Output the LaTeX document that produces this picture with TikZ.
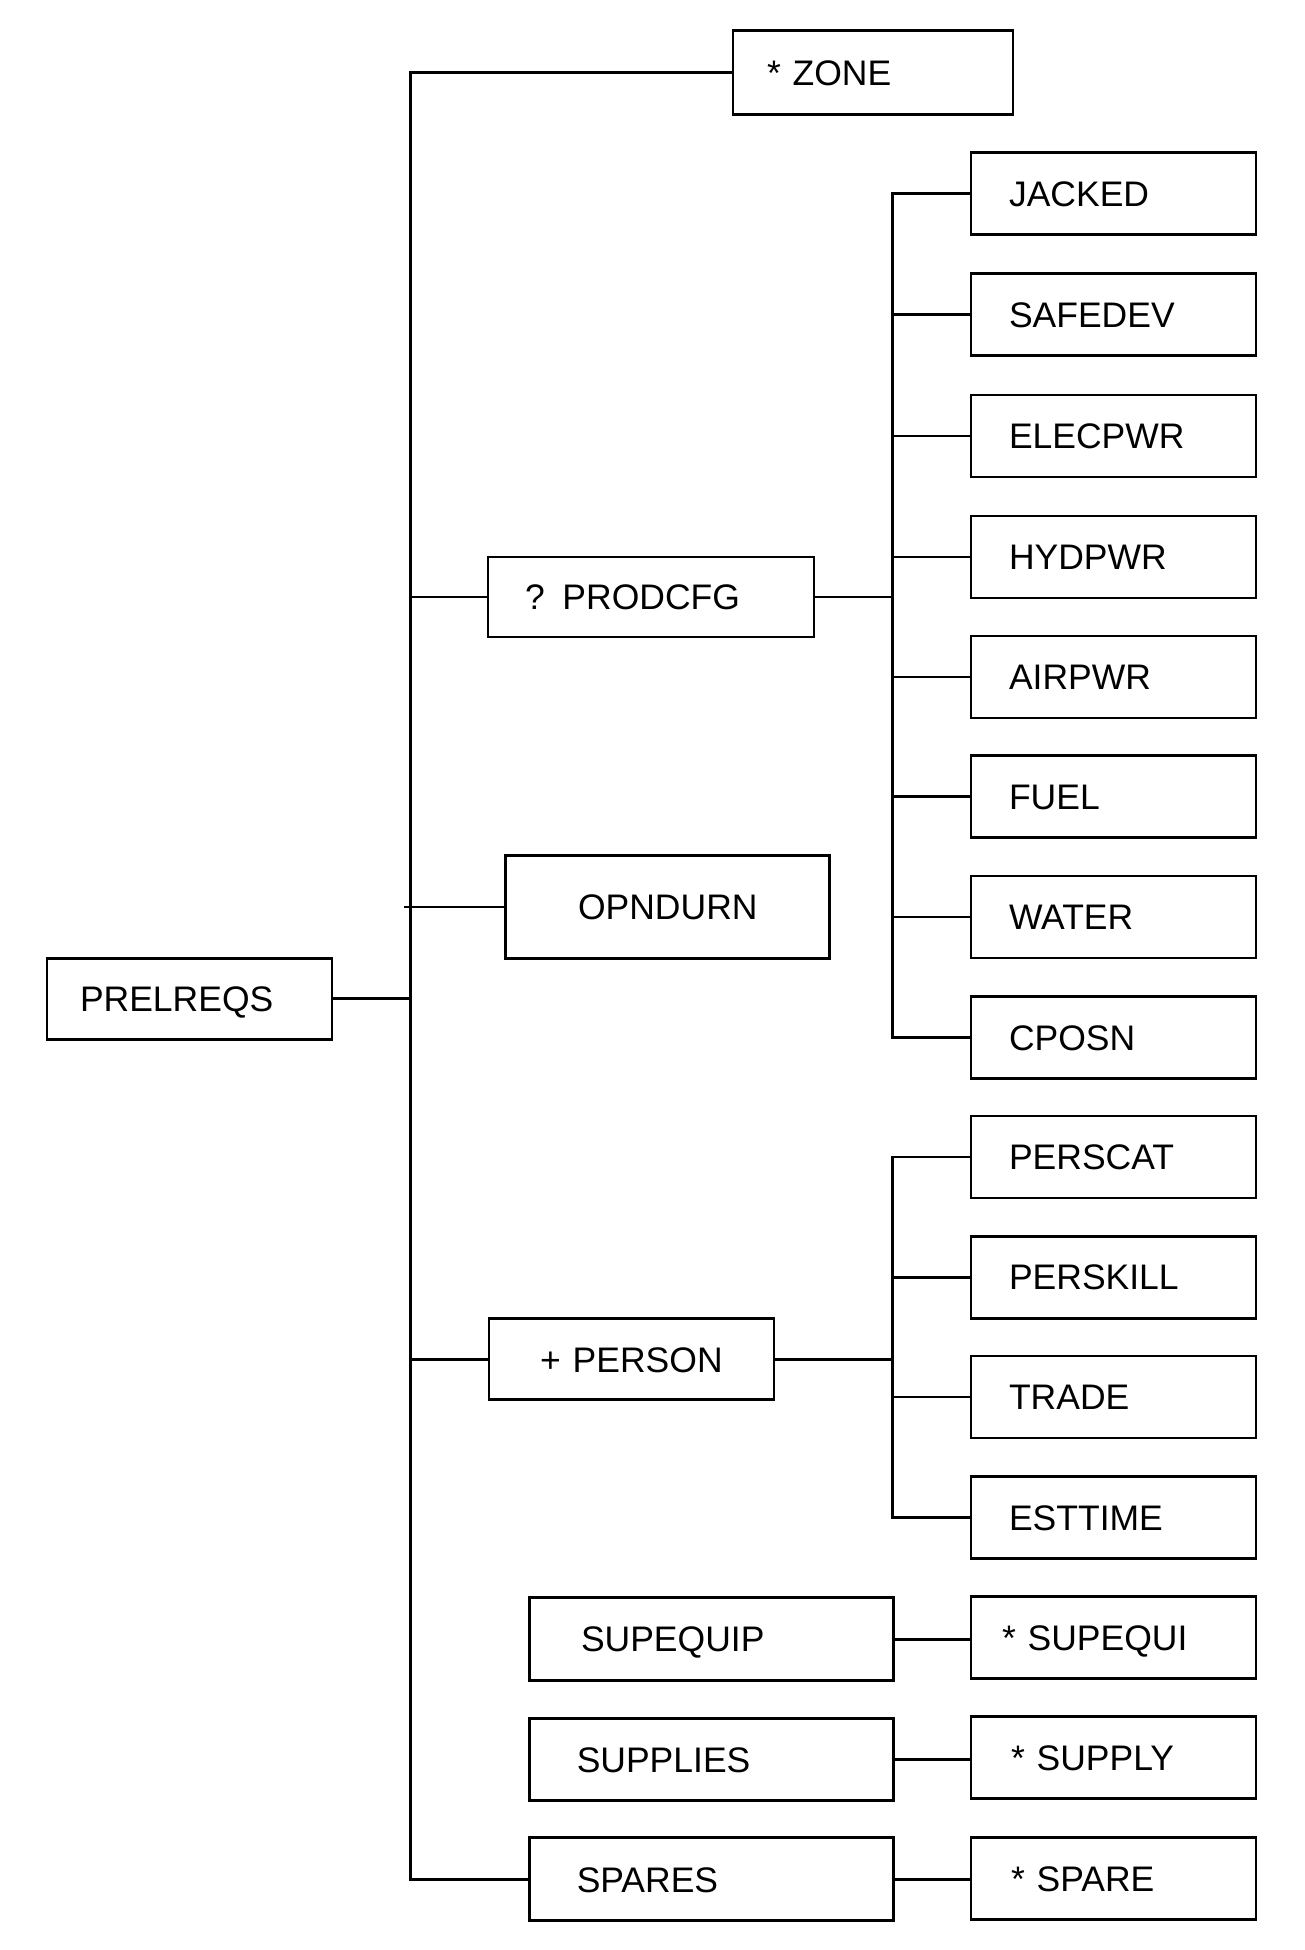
\documentclass[tikz,border=0pt]{standalone}
\usepackage{fontspec}
\setmainfont{Liberation Sans}
\begin{document}
\begin{tikzpicture}[x=1pt,y=-1pt,
  box/.style={draw, line width=2.7pt, font=\fontsize{35.5}{40}\selectfont,
    text height=25.5pt, text depth=0pt, inner ysep=4pt, align=left},
  rbox/.style={box, text width=209pt, inner xsep=38pt, minimum height=82pt},
  link/.style={line width=2.7pt}]
\useasboundingbox (0,0) rectangle (1305,1950);
\fill[white] (0,0) rectangle (1305,1950);
\coordinate (trunk) at (410.3,0);
\coordinate (sub) at (892.5,0);
\coordinate (ostub) at (404,907);

% left and middle boxes
\node[box, text width=212pt, inner xsep=34pt, minimum height=84pt] (zone) at (873,72.7) {* ZONE};
\node[box, text width=252pt, inner xsep=37pt, minimum height=80pt] (prodcfg) at (651,597) {? PRODCFG};
\node[box, align=center, text width=284pt, inner xsep=20pt, minimum height=103.6pt] (opndurn) at (667.8,907) {OPNDURN};
\node[box, text width=219pt, inner xsep=33pt, minimum height=81pt] (prelreqs) at (189.5,998.8) {PRELREQS};
\node[box, align=center, text width=245pt, inner xsep=20pt, minimum height=81pt] (person) at (631.4,1359.3) {+ PERSON};
\node[box, text width=261pt, inner xsep=51.5pt, minimum height=83pt] (supequip) at (711.5,1639.2) {SUPEQUIP};
\node[box, text width=269.5pt, inner xsep=47pt, minimum height=82pt] (supplies) at (711.5,1759.3) {SUPPLIES};
\node[box, text width=269.5pt, inner xsep=47pt, minimum height=83pt] (spares) at (711.5,1879.3) {SPARES};

% right column
\node[rbox] (jacked)   at (1113.5,193.6)  {JACKED};
\node[rbox] (safedev)  at (1113.5,314.8)  {SAFEDEV};
\node[rbox] (elecpwr)  at (1113.5,435.9)  {ELECPWR};
\node[rbox] (hydpwr)   at (1113.5,556.9)  {HYDPWR};
\node[rbox] (airpwr)   at (1113.5,676.9)  {AIRPWR};
\node[rbox] (fuel)     at (1113.5,796.5)  {FUEL};
\node[rbox] (water)    at (1113.5,917)    {WATER};
\node[rbox] (cposn)    at (1113.5,1037.5) {CPOSN};
\node[rbox] (perscat)  at (1113.5,1157.1) {PERSCAT};
\node[rbox] (perskill) at (1113.5,1277.2) {PERSKILL};
\node[rbox] (trade)    at (1113.5,1397.1) {TRADE};
\node[rbox] (esttime)  at (1113.5,1517.7) {ESTTIME};
\node[rbox, text width=223pt, inner xsep=31pt] (supequi) at (1113.5,1637.7) {* SUPEQUI};
\node[rbox, text width=205pt, inner xsep=40pt] (supply)  at (1113.5,1757.8) {* SUPPLY};
\node[rbox, text width=205pt, inner xsep=40pt] (spare)   at (1113.5,1878.3) {* SPARE};

% main trunk
\draw[link] (zone.west) -- (zone.west -| trunk) -- (spares.west -| trunk) -- (spares.west);
\draw[link] (prodcfg.west) -- (prodcfg.west -| trunk);
\draw[link] (ostub) -- (opndurn.west);
\draw[link] (prelreqs.east) -- (prelreqs.east -| trunk);
\draw[link] (person.west) -- (person.west -| trunk);

% PRODCFG sub-tree
\draw[link] (jacked.west) -- (jacked.west -| sub) -- (cposn.west -| sub) -- (cposn.west);
\foreach \n in {safedev,elecpwr,hydpwr,airpwr,fuel,water}
  \draw[link] (\n.west) -- (\n.west -| sub);
\draw[link] (prodcfg.east) -- (prodcfg.east -| sub);

% PERSON sub-tree
\draw[link] (perscat.west) -- (perscat.west -| sub) -- (esttime.west -| sub) -- (esttime.west);
\foreach \n in {perskill,trade}
  \draw[link] (\n.west) -- (\n.west -| sub);
\draw[link] (person.east) -- (person.east -| sub);

% bottom pairs
\draw[link] (supequip.east) -- (supequip.east -| supequi.west);
\draw[link] (supplies.east) -- (supplies.east -| supply.west);
\draw[link] (spares.east) -- (spares.east -| spare.west);
\end{tikzpicture}
\end{document}
